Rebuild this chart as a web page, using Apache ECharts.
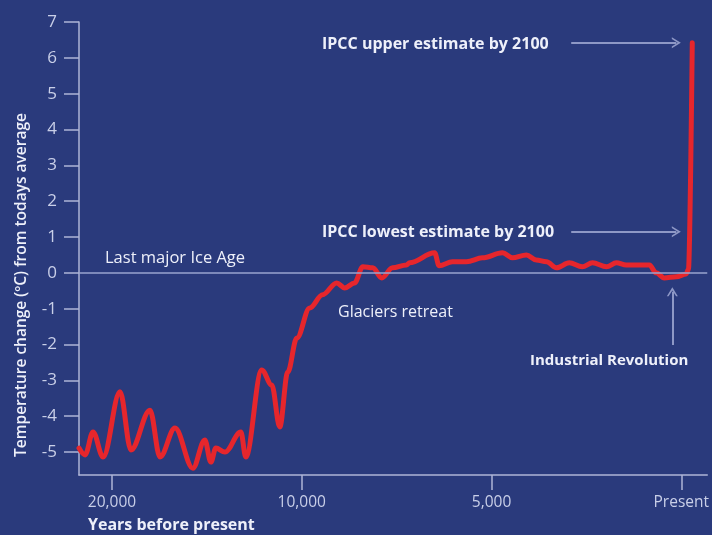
<!DOCTYPE html>
<html><head><meta charset="utf-8">
<script src="https://cdn.jsdelivr.net/npm/echarts@6/dist/echarts.min.js"></script>
<style>html,body{margin:0;padding:0;background:#2a3a7c}#c{width:712px;height:535px}</style>
</head><body><div id="c"></div>
<script>
// Tick positions (years before present) and their labels; ticks are evenly spaced on the drawn axis
const tickYears = [20000, 10000, 5000, 0];
const tickLabels = ['20,000', '10,000', '5,000', 'Present'];
const yTickValues = [-5, -4, -3, -2, -1, 0, 1, 2, 3, 4, 5, 6, 7];

// Temperature curve: years before present (negative = future) and temperature change (°C)
const years = [21740, 21420, 21000, 20470, 19580, 19000, 18000, 17470, 16680, 15740, 15110, 14790, 14530, 14050,
  13210, 12950, 12110, 11580, 11160, 10740, 10260, 9790, 9450, 9080, 8870, 8610, 8390, 8130, 7890, 7610, 7240,
  7160, 6500, 6380, 6030, 5660, 5240, 4710, 4450, 4080, 3820, 3550, 3290, 2950, 2610, 2340, 1970, 1710, 1450,
  840, 660, 450, 130, -130, -190, -290];
const temps = [-4.89, -5.08, -4.44, -5.14, -3.32, -4.94, -3.83, -5.14, -4.33, -5.45, -4.66, -5.28, -4.89, -5.00,
  -4.44, -5.14, -2.71, -3.13, -4.30, -2.77, -1.82, -0.98, -0.61, -0.28, -0.42, -0.28, 0.17, 0.14, -0.14, 0.14, 0.22,
  0.28, 0.56, 0.20, 0.31, 0.31, 0.42, 0.56, 0.42, 0.50, 0.36, 0.31, 0.14, 0.28, 0.17, 0.28, 0.17, 0.28, 0.22,
  0.22, 0.00, -0.14, -0.11, -0.03, 0.10, 6.42];

// Annotation values
const upperEstimate = 6.42;
const lowerEstimate = 1.15;
const estimateArrowYears = [2900, 130];
const industrialYear = 235;
const industrialArrowTemps = [-2.01, -0.53];

// piecewise mapping of years onto the evenly-spaced drawn axis (tick index units)
function warp(yr) {
  if (yr >= tickYears[1]) return (tickYears[0] - yr) / (tickYears[0] - tickYears[1]);
  if (yr >= tickYears[2]) return 1 + (tickYears[1] - yr) / (tickYears[1] - tickYears[2]);
  return 2 + (tickYears[2] - yr) / (tickYears[2] - tickYears[3]);
}

const xMin = -0.174, xMax = 3.137;
const lineData = years.map((y, i) => [warp(y), temps[i]]);
const chevron = 'path://M5,0 L10,8 L8.4,8 L5,2.8 L1.6,8 L0,8 Z';
const arrowColor = '#8e98c6';
const textColor = '#eef0fa';
const axisColor = '#aeb5d6';
const labelColor = '#c9cfe8';
const font = '"Open Sans", "Noto Sans", sans-serif';

const chart = echarts.init(document.getElementById('c'), null, { renderer: 'canvas' });
chart.setOption({
  backgroundColor: '#2a3a7c',
  animation: false,
  grid: { left: 79, right: 4, top: 22, bottom: 60, containLabel: false },
  xAxis: {
    type: 'value', min: xMin, max: xMax,
    splitLine: { show: false },
    axisLine: { show: true, onZero: false, lineStyle: { color: axisColor, width: 1.5 } },
    axisTick: { show: true, length: 15, customValues: tickYears.map(warp), lineStyle: { color: axisColor, width: 1.5 } },
    axisLabel: {
      customValues: tickYears.map(warp), margin: 20, color: labelColor, fontSize: 15.5, fontFamily: font,
      formatter: v => { const i = tickYears.map(warp).findIndex(t => Math.abs(t - v) < 1e-6); return i >= 0 ? tickLabels[i] : ''; }
    }
  },
  yAxis: {
    type: 'value', min: -5.64, max: 7,
    splitLine: { show: false },
    axisLine: { show: true, onZero: false, lineStyle: { color: axisColor, width: 1.5 } },
    axisTick: { show: true, length: 15, customValues: yTickValues, lineStyle: { color: axisColor, width: 1.5 } },
    axisLabel: { customValues: yTickValues, margin: 22, color: labelColor, fontSize: 17, fontFamily: font }
  },
  series: [
    {
      type: 'line', data: lineData, z: 1, silent: true, showSymbol: false,
      lineStyle: { opacity: 0 },
      markLine: {
        silent: true, animation: false,
        label: { show: false },
        symbol: ['none', 'none'],
        data: [
          [{ coord: [xMin, 0], symbol: 'none', lineStyle: { color: '#9aa4cf', width: 1.5, type: 'solid' } },
           { coord: [xMax, 0], symbol: 'none' }],
          [{ coord: [warp(estimateArrowYears[0]), upperEstimate], symbol: 'none', lineStyle: { color: arrowColor, width: 2, type: 'solid' } },
           { coord: [warp(estimateArrowYears[1]), upperEstimate], symbol: chevron, symbolSize: [11, 9] }],
          [{ coord: [warp(estimateArrowYears[0]), lowerEstimate], symbol: 'none', lineStyle: { color: arrowColor, width: 2, type: 'solid' } },
           { coord: [warp(estimateArrowYears[1]), lowerEstimate], symbol: chevron, symbolSize: [11, 9] }],
          [{ coord: [warp(industrialYear), industrialArrowTemps[0]], symbol: 'none', lineStyle: { color: arrowColor, width: 2, type: 'solid' } },
           { coord: [warp(industrialYear), industrialArrowTemps[1]], symbol: chevron, symbolSize: [11, 9] }]
        ]
      }
    },
    {
      type: 'line', data: lineData, z: 3, showSymbol: false, smooth: 0.35, smoothMonotone: 'x',
      lineStyle: { color: '#e6262c', width: 5, cap: 'round', join: 'round' }
    }
  ],
  graphic: [
    { type: 'text', x: 22, y: 285, rotation: Math.PI / 2,
      style: { text: 'Temperature change (ºC) from todays average', fill: textColor, font: '600 15.5px ' + font, textAlign: 'center', textVerticalAlign: 'middle' } },
    { type: 'text', style: { text: 'Years before present', x: 88, y: 525, fill: textColor, font: 'bold 16px ' + font, textAlign: 'left', textVerticalAlign: 'middle' } },
    { type: 'text', style: { text: 'IPCC upper estimate by 2100', x: 322, y: 44, fill: textColor, font: 'bold 16px ' + font, textAlign: 'left', textVerticalAlign: 'middle' } },
    { type: 'text', style: { text: 'IPCC lowest estimate by 2100', x: 322, y: 232, fill: textColor, font: 'bold 16px ' + font, textAlign: 'left', textVerticalAlign: 'middle' } },
    { type: 'text', style: { text: 'Last major Ice Age', x: 105, y: 258, fill: textColor, font: '16.5px ' + font, textAlign: 'left', textVerticalAlign: 'middle' } },
    { type: 'text', style: { text: 'Glaciers retreat', x: 338, y: 312, fill: textColor, font: '16px ' + font, textAlign: 'left', textVerticalAlign: 'middle' } },
    { type: 'text', style: { text: 'Industrial Revolution', x: 530, y: 361, fill: textColor, font: 'bold 15px ' + font, textAlign: 'left', textVerticalAlign: 'middle' } }
  ]
});
</script>
</body></html>
